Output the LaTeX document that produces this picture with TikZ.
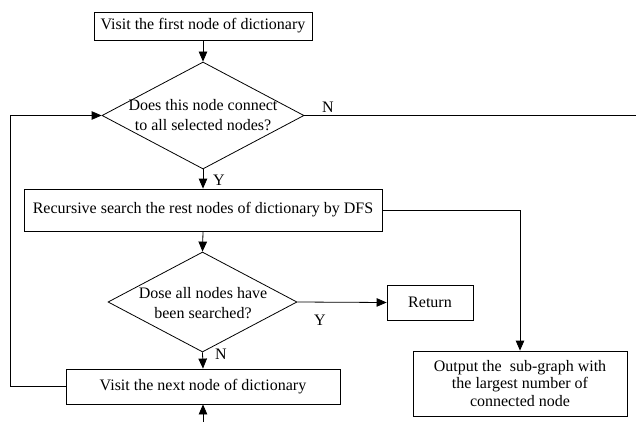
\documentclass[tikz,border=0pt]{standalone}
\usepackage{fontspec}
\setmainfont{Liberation Serif}
\usetikzlibrary{arrows.meta,shapes.geometric}
\begin{document}
\begin{tikzpicture}[x=1pt,y=-1pt,
  line width=0.8pt,
  every node/.style={font=\fontsize{16}{20}\selectfont},
  procbox/.style={draw,rectangle,inner sep=0pt,align=center},
  decision/.style={draw,diamond,inner sep=0pt},
  flow/.style={-{Triangle[length=10pt,width=8.5pt]}},
  tag/.style={inner sep=0pt}
]
\useasboundingbox (0,0) rectangle (636,422);

% process boxes
\node[procbox,minimum width=218pt,minimum height=28pt] (first) at (203,26) {Visit the first node of dictionary};
\node[procbox,minimum width=358pt,minimum height=42pt] (dfs) at (203,210) {Recursive search the rest nodes of dictionary by DFS};
\node[procbox,minimum width=274pt,minimum height=35pt] (next) at (203,386.5) {Visit the next node of dictionary};
\node[procbox,minimum width=86pt,minimum height=35pt] (ret) at (430,302.5) {Return};
\node[procbox,minimum width=214pt,minimum height=65pt,
      font=\fontsize{16}{17.7}\selectfont] (out) at (520,383.5)
  {Output the\ \ sub-graph with\\the largest number of\\connected node};

% decisions: outline and text
\node[decision,minimum width=202pt,minimum height=107pt] (conn) at (203,115.5) {};
\node[tag,align=center] (conntext) at (203,115.5) {Does this node connect\\to all selected nodes?};
\node[decision,minimum width=189pt,minimum height=100pt] (done) at (202.5,302) {};
\node[tag,align=center] (donetext) at (203,303) {Dose all nodes have\\been searched?};

% free ends
\coordinate (rightend) at (636,115.5);
\coordinate (bottomend) at (203,422);
\coordinate (loopbot) at (10,386.5);
\coordinate (looptop) at (10,115.5);
\coordinate (outturn) at (520,210);

% connectors
\draw[flow] (first) -- (conn.north);
\draw[flow] (conn.south) -- (dfs.north);
\draw (conn.east) -- (rightend);
\draw[flow] (dfs.south) -- (done.north);
\draw[flow] (dfs.east) -- (outturn) -- (out.north);
\draw[flow] (done.east) -- (ret.west);
\draw[flow] (done.south) -- (next.north);
\draw[flow] (bottomend) -- (next.south);
\draw[flow] (next.west) -- (loopbot) -- (looptop) -- (conn.west);

% branch labels
\node[tag] (yes1) at (219,180) {Y};
\node[tag] (no1) at (328,107) {N};
\node[tag] (yes2) at (320,320) {Y};
\node[tag] (no2) at (221,354) {N};
\end{tikzpicture}
\end{document}
